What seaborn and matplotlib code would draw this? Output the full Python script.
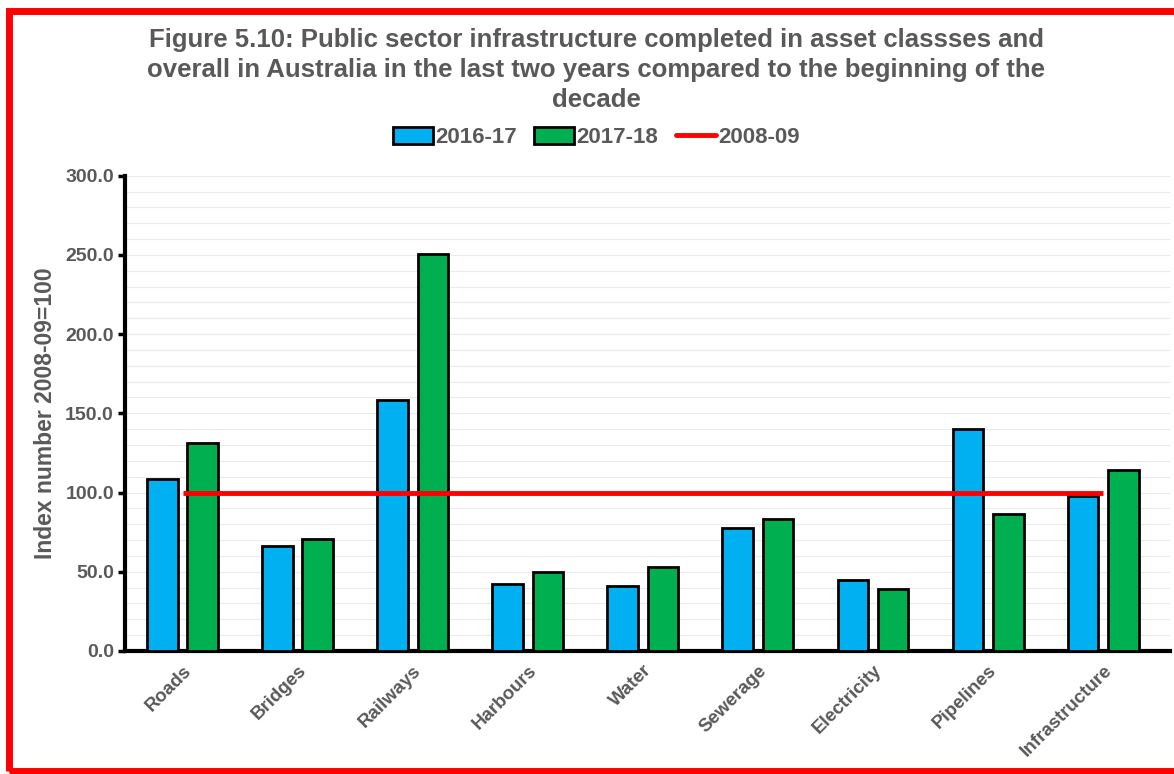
import matplotlib
matplotlib.use("Agg")
import matplotlib.pyplot as plt
import seaborn as sns
import numpy as np
import pandas as pd
from matplotlib.patches import Patch, Rectangle
from matplotlib.lines import Line2D
from matplotlib.ticker import MultipleLocator, FormatStrFormatter

categories = ["Roads", "Bridges", "Railways", "Harbours", "Water", "Sewerage",
              "Electricity", "Pipelines", "Infrastructure"]
values_1617 = [108.6, 66.3, 158.5, 42.3, 41.0, 77.7, 44.8, 140.2, 97.9]
values_1718 = [131.4, 70.7, 250.8, 49.9, 53.0, 83.4, 39.2, 86.5, 114.3]
baseline_0809 = [100.0] * len(categories)
series_names = ["2016-17", "2017-18"]
baseline_name = "2008-09"

title = ("Figure 5.10: Public sector infrastructure completed in asset classses and\n"
         "overall in Australia in the last two years compared to the beginning of the\n"
         "decade")
ylabel = "Index number 2008-09=100"

sns.set_theme(style="white")
plt.rcParams["font.family"] = ["Liberation Sans", "DejaVu Sans"]

gray = "#595959"
blue = "#00B0F0"
green = "#00B050"
red = "#FF0000"

df = pd.DataFrame({
    "category": categories * 2,
    "value": values_1617 + values_1718,
    "series": [series_names[0]] * len(categories) + [series_names[1]] * len(categories),
})

fig = plt.figure(figsize=(11.74, 7.74), dpi=100)
ax = fig.add_axes([0.1065, 0.159, 0.89, 0.614])

sns.barplot(data=df, x="category", y="value", hue="series", order=categories,
            hue_order=series_names, palette=[blue, green], saturation=1,
            width=0.70, gap=0.24, edgecolor="black", linewidth=2, ax=ax,
            legend=False, zorder=3)

ax.plot(np.arange(len(categories)), baseline_0809, color=red, linewidth=3.5, zorder=4,
        solid_capstyle="butt")

ax.set_ylim(0, 300)
ax.set_xlim(-0.5, 8.58)
ax.yaxis.set_major_locator(MultipleLocator(50))
ax.yaxis.set_minor_locator(MultipleLocator(10))
ax.yaxis.set_major_formatter(FormatStrFormatter("%.1f"))
ax.grid(True, which="both", axis="y", color="#EBEBEB", linewidth=0.8, zorder=0)
ax.set_axisbelow(True)

for s in ["top", "right"]:
    ax.spines[s].set_visible(False)
for s in ["left", "bottom"]:
    ax.spines[s].set_color("black")
    ax.spines[s].set_linewidth(3)

ax.tick_params(axis="y", which="major", direction="out", length=5, width=2.5,
               color="black", labelsize=14, labelcolor=gray, pad=3, left=True)
ax.tick_params(axis="y", which="minor", length=0)
ax.tick_params(axis="x", length=0, labelsize=13, labelcolor=gray, pad=8)
for lab in ax.get_yticklabels():
    lab.set_fontweight("bold")
ax.set_xticks(range(len(categories)))
ax.set_xticklabels(categories, rotation=45, ha="right", rotation_mode="anchor",
                   fontweight="bold", color=gray, fontsize=13.5)
ax.set_xlabel("")
ax.set_ylabel(ylabel, fontsize=16.5, fontweight="bold", color=gray, labelpad=6)

fig.text(0.508, 0.9635, title, ha="center", va="top", fontsize=18.5, fontweight="bold",
         color=gray, linespacing=1.32)

handles = [Patch(facecolor=blue, edgecolor="black", linewidth=2),
           Patch(facecolor=green, edgecolor="black", linewidth=2),
           Line2D([0], [0], color=red, linewidth=3.5)]
fig.legend(handles, series_names + [baseline_name], loc="center", ncol=3,
           bbox_to_anchor=(0.508, 0.822), frameon=False, handlelength=1.8,
           handleheight=0.8, handletextpad=0.1, columnspacing=0.8,
           prop={"size": 16, "weight": "bold"}, labelcolor=gray)

fig.patches.append(Rectangle((0.0075, 0.0045), 1.1, 0.9815, transform=fig.transFigure,
                             fill=False, edgecolor=red, linewidth=5, zorder=10))

fig.savefig("out.png", dpi=100)
